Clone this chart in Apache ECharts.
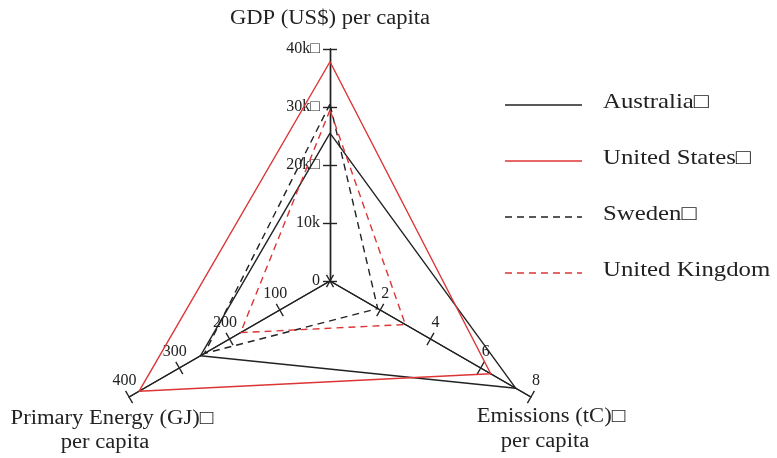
<!DOCTYPE html>
<html>
<head>
<meta charset="utf-8">
<script src="https://cdn.jsdelivr.net/npm/echarts@6/dist/echarts.min.js"></script>
<style>
  html, body { margin: 0; padding: 0; background: #ffffff; }
  #chart { width: 777px; height: 458px; }
</style>
</head>
<body>
<div id="chart"></div>
<script>
// Indicators (axes) of the radar, in drawing order (counter-clockwise from the top)
const indicatorMax = [40000, 400, 8];
const gdpTicks = ['0', '10k', '20k\u25A1', '30k\u25A1', '40k\u25A1'];
const energyTicks = ['', '100', '200', '300', '400'];
const emissionTicks = ['', '2', '4', '6', '8'];

// Per-capita figures: [GDP (US$), primary energy (GJ), emissions (tC)]
const countries = ['Australia', 'United States', 'Sweden', 'United Kingdom'];
const legendLabels = ['Australia\u25A1', 'United States\u25A1', 'Sweden\u25A1', 'United Kingdom'];
const australia = [25500, 258, 7.4];
const unitedStates = [37800, 380, 6.4];
const sweden = [30500, 250, 1.9];
const unitedKingdom = [29500, 178, 3.0];

const FONT = '"Liberation Serif", "Times New Roman", serif';
const INK = '#222222';
const RED = '#dc3535';
const DASH = [7, 5];

const tickText = (labels, max) => (v) => labels[Math.round(v / (max / 4))] || '';

const baseRadar = {
  center: [330, 281],
  radius: 232,
  startAngle: 90,
  splitNumber: 4,
  shape: 'polygon',
  axisName: { show: false },
  splitLine: { show: false },
  splitArea: { show: false },
  axisLine: { lineStyle: { color: INK, width: 1.4 } }
};

const indicators = (withLabels) => [
  {
    name: '', min: 0, max: indicatorMax[0],
    axisLabel: withLabels ? { formatter: tickText(gdpTicks, indicatorMax[0]), align: 'right', verticalAlign: 'middle', margin: 10 } : undefined
  },
  {
    name: '', min: 0, max: indicatorMax[1],
    axisLabel: withLabels ? { formatter: tickText(energyTicks, indicatorMax[1]), align: 'center', verticalAlign: 'bottom', margin: -9 } : undefined
  },
  {
    name: '', min: 0, max: indicatorMax[2],
    axisLabel: withLabels ? { formatter: tickText(emissionTicks, indicatorMax[2]), align: 'center', verticalAlign: 'bottom', margin: 10 } : undefined
  }
];

const lineStyles = [
  { color: INK, width: 1.4, type: 'solid' },
  { color: RED, width: 1.4, type: 'solid' },
  { color: INK, width: 1.4, type: DASH },
  { color: RED, width: 1.4, type: DASH }
];
const values = [australia, unitedStates, sweden, unitedKingdom];

// Legend keys and axis titles (serif text, slightly widened)
const legendTop = 105, legendStep = 56;
const graphic = [];
countries.forEach((c, i) => {
  const y = legendTop + i * legendStep;
  graphic.push({
    type: 'line',
    shape: { x1: 505, y1: y, x2: 582, y2: y },
    style: { stroke: lineStyles[i].color, lineWidth: 1.4, lineDash: lineStyles[i].type === 'solid' ? null : DASH }
  });
  graphic.push({
    type: 'text', x: 603, y: y - 3, scaleX: 1.18,
    style: { text: legendLabels[i], font: '21px ' + FONT, fill: INK, textAlign: 'left', textVerticalAlign: 'middle' }
  });
});
const titles = [
  ['GDP (US$) per capita', 330, 19],
  ['Primary Energy (GJ)\u25A1', 112, 419],
  ['per capita', 105, 443],
  ['Emissions (tC)\u25A1', 551, 417],
  ['per capita', 545, 442]
];
titles.forEach(([t, x, y]) => graphic.push({
  type: 'text', x, y, scaleX: 1.13,
  style: { text: t, font: '20px ' + FONT, fill: INK, textAlign: 'center', textVerticalAlign: 'middle' }
}));

const chart = echarts.init(document.getElementById('chart'), null, { renderer: 'canvas' });
chart.setOption({
  animation: false,
  backgroundColor: '#ffffff',
  textStyle: { fontFamily: FONT },
  radar: [
    Object.assign({}, baseRadar, {
      indicator: indicators(true),
      axisTick: { show: true, length: 7, lineStyle: { color: INK, width: 1.4 } },
      axisLabel: { show: true, color: INK, fontFamily: FONT, fontSize: 16 }
    }),
    // same axes again, ticks pointing the other way so each tick crosses its axis
    Object.assign({}, baseRadar, {
      indicator: indicators(false),
      axisTick: { show: true, length: -7, lineStyle: { color: INK, width: 1.4 } },
      axisLabel: { show: false }
    })
  ],
  series: [{
    type: 'radar',
    radarIndex: 0,
    symbol: 'none',
    data: countries.map((c, i) => ({ name: c, value: values[i], lineStyle: lineStyles[i] }))
  }],
  graphic: graphic
});
</script>
</body>
</html>
